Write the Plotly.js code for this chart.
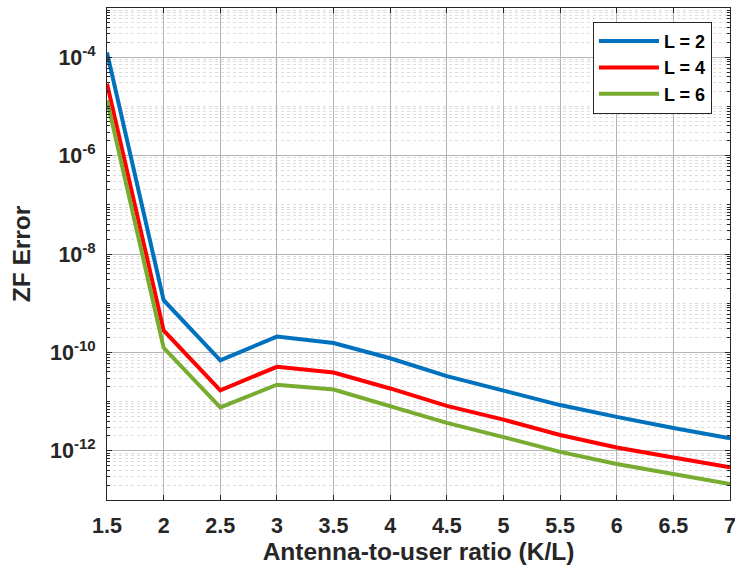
<!DOCTYPE html>
<html>
<head>
<meta charset="utf-8">
<script src="https://cdn.plot.ly/plotly-3.0.1.min.js"></script>
<style>html,body{margin:0;padding:0;background:#fff;}#chart{width:735px;height:569px;}</style>
</head>
<body>
<div id="chart"></div>
<script>
const ratios = [1.5, 2, 2.5, 3, 3.5, 4, 4.5, 5, 5.5, 6, 6.5, 7];
const errL2 = [1.25e-4, 1.15e-9, 6.9e-11, 2.1e-10, 1.55e-10, 7.6e-11, 3.3e-11, 1.7e-11, 8.5e-12, 4.9e-12, 2.9e-12, 1.8e-12];
const errL4 = [2.9e-5, 2.8e-10, 1.7e-11, 5.1e-11, 3.9e-11, 1.85e-11, 8.2e-12, 4.3e-12, 2.1e-12, 1.17e-12, 7.3e-13, 4.6e-13];
const errL6 = [1.34e-5, 1.24e-10, 7.6e-12, 2.2e-11, 1.76e-11, 8.1e-12, 3.7e-12, 1.9e-12, 9.5e-13, 5.4e-13, 3.3e-13, 2.1e-13];
const seriesNames = ["L = 2", "L = 4", "L = 6"];
const xTicks = [1.5, 2, 2.5, 3, 3.5, 4, 4.5, 5, 5.5, 6, 6.5, 7];
const xTickText = ["1.5", "2", "2.5", "3", "3.5", "4", "4.5", "5", "5.5", "6", "6.5", "7"];
const yTicks = [1e-12, 1e-10, 1e-8, 1e-6, 1e-4];
const yTickText = ["10<sup>-12</sup>", "10<sup>-10</sup>", "10<sup>-8</sup>", "10<sup>-6</sup>", "10<sup>-4</sup>"];

const colors = ["#0072BD", "#FF0000", "#77AC30"];
const data = [errL2, errL4, errL6].map((ys, i) => ({
  x: ratios, y: ys, type: "scatter", mode: "lines", name: seriesNames[i],
  line: {color: colors[i], width: 4}
}));

const font = "Liberation Sans, Arial, sans-serif";
const layout = {
  width: 735, height: 569,
  margin: {l: 107, r: 5, t: 8, b: 69},
  paper_bgcolor: "#fff", plot_bgcolor: "#fff",
  showlegend: true,
  legend: {
    x: 0.78, y: 0.972, xanchor: "left", yanchor: "top",
    bgcolor: "#fff", bordercolor: "#262626", borderwidth: 1,
    font: {family: font, size: 18, color: "#000", weight: "bold"},
    itemwidth: 60,
    tracegroupgap: 0
  },
  xaxis: {
    range: [1.5, 7], tickvals: xTicks, ticktext: xTickText,
    ticklabeloverflow: "allow",
    ticks: "inside", ticklen: 5, tickcolor: "#262626",
    showline: true, linecolor: "#262626", linewidth: 1, mirror: "ticks",
    showgrid: true, gridcolor: "#b4b4b4", gridwidth: 1,
    zeroline: false, ticklabelstandoff: 6,
    tickfont: {family: font, size: 21.5, color: "#262626", weight: "bold"},
    title: {text: "Antenna-to-user ratio (K/L)", font: {family: font, size: 24.5, color: "#262626", weight: "bold"}, standoff: 4}
  },
  yaxis: {
    type: "log", range: [-13, -3], tickvals: yTicks, ticktext: yTickText,
    ticks: "inside", ticklen: 5, tickcolor: "#262626",
    showline: true, linecolor: "#262626", linewidth: 1, mirror: "ticks",
    showgrid: true, gridcolor: "#b4b4b4", gridwidth: 1,
    zeroline: false, ticklabelstandoff: 6,
    minor: {dtick: "D1", showgrid: true, gridcolor: "#dcdcdc", griddash: "dot", gridwidth: 1, ticks: "inside", ticklen: 3, tickcolor: "#262626"},
    tickfont: {family: font, size: 21.5, color: "#262626", weight: "bold"},
    title: {text: "ZF Error", font: {family: font, size: 24.5, color: "#262626", weight: "bold"}, standoff: 12}
  }
};
Plotly.newPlot("chart", data, layout, {displayModeBar: false, staticPlot: true});
</script>
</body>
</html>
